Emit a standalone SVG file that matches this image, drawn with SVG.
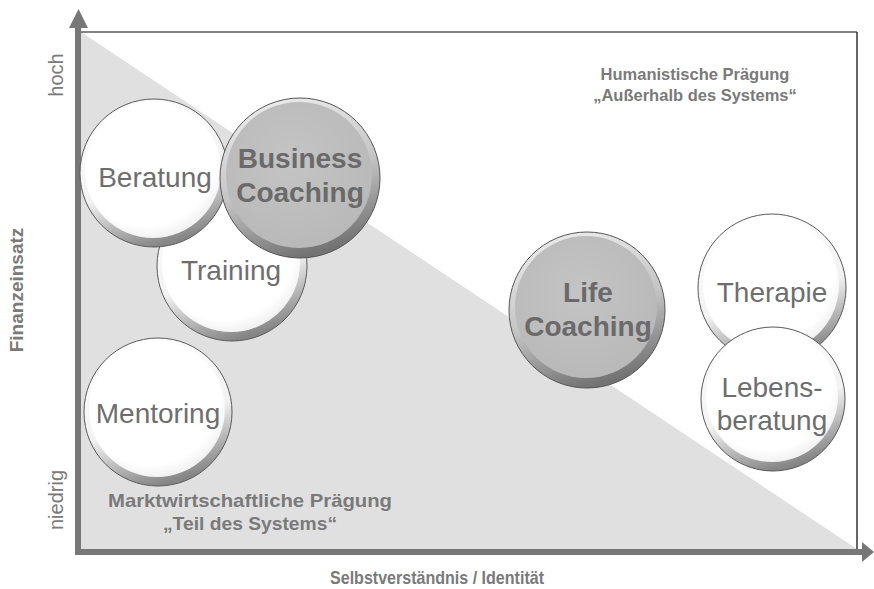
<svg xmlns="http://www.w3.org/2000/svg" width="874" height="589" viewBox="0 0 874 589">
<defs>
<linearGradient id="rimW" x1="0.2" y1="0" x2="0.5" y2="1">
<stop offset="0" stop-color="#ffffff"/>
<stop offset="0.6" stop-color="#f2f2f2"/>
<stop offset="1" stop-color="#858585"/>
</linearGradient>
<radialGradient id="faceW" cx="0.45" cy="0.4" r="0.6">
<stop offset="0" stop-color="#ffffff"/>
<stop offset="0.85" stop-color="#ffffff"/>
<stop offset="1" stop-color="#f2f2f2"/>
</radialGradient>
<linearGradient id="rimG" x1="0.2" y1="0" x2="0.5" y2="1">
<stop offset="0" stop-color="#eeeeee"/>
<stop offset="0.55" stop-color="#c4c4c4"/>
<stop offset="1" stop-color="#727272"/>
</linearGradient>
<radialGradient id="faceG" cx="0.45" cy="0.4" r="0.6">
<stop offset="0" stop-color="#c4c4c4"/>
<stop offset="1" stop-color="#b9b9b9"/>
</radialGradient>
</defs>
<style>
.rw{fill:url(#rimW);stroke:#5a5a5a;stroke-width:1}
.fw{fill:url(#faceW)}
.rg{fill:url(#rimG);stroke:#555;stroke-width:1}
.fg{fill:url(#faceG)}
.lbl{font-family:"Liberation Sans",Arial,sans-serif;font-size:28px;fill:#6e6e6e;text-anchor:middle}
.blbl{font-family:"Liberation Sans",Arial,sans-serif;font-size:28px;font-weight:bold;fill:#6a6a6a;text-anchor:middle}
.ax{font-family:"Liberation Sans",Arial,sans-serif;font-size:20px;fill:#7a7a7a;text-anchor:middle}
.axb{font-family:"Liberation Sans",Arial,sans-serif;font-weight:bold;fill:#7a7a7a;text-anchor:middle}
</style>
<rect width="874" height="589" fill="#ffffff"/>
<g id="region">
<polygon points="81,32 81,549 857,549" fill="#e0e0e0"/>
</g>
<g id="frame" fill="none">
<line x1="81" y1="32" x2="857" y2="32" stroke="#5a5a5a" stroke-width="1.5"/>
<line x1="857" y1="32" x2="857" y2="550" stroke="#333" stroke-width="1.5"/>
</g>
<g id="axes">
<line x1="78" y1="26" x2="78" y2="555" stroke="#777" stroke-width="6"/>
<polygon points="69,28 88,28 78.5,9" fill="#777"/>
<line x1="75" y1="552" x2="864" y2="552" stroke="#777" stroke-width="6"/>
<polygon points="862,542 862,562 874,552" fill="#777"/>
</g>
<g id="axis-labels">
<text class="ax" transform="translate(63,75) rotate(-90)">hoch</text>
<text class="ax" transform="translate(63,500) rotate(-90)">niedrig</text>
<text class="axb" font-size="19" transform="translate(23,290) rotate(-90)">Finanzeinsatz</text>
<text class="axb" font-size="19" x="437" y="584" textLength="214" lengthAdjust="spacingAndGlyphs">Selbstverständnis / Identität</text>
</g>
<g id="region-labels">
<text class="axb" font-size="19" x="250" y="507" textLength="284" lengthAdjust="spacingAndGlyphs">Marktwirtschaftliche Prägung</text>
<text class="axb" font-size="19" x="250" y="530" textLength="174" lengthAdjust="spacingAndGlyphs">„Teil des Systems“</text>
<text class="axb" font-size="16.5" x="695" y="80">Humanistische Prägung</text>
<text class="axb" font-size="16.5" x="695" y="101">„Außerhalb des Systems“</text>
</g>
<g id="training">
<circle class="rw" cx="232" cy="266" r="75"/>
<circle class="fw" cx="231" cy="263" r="69"/>
<text class="lbl" x="231" y="280">Training</text>
</g>
<g id="beratung">
<circle class="rw" cx="154" cy="173" r="74"/>
<circle class="fw" cx="153" cy="170" r="68"/>
<text class="lbl" x="155" y="187">Beratung</text>
</g>
<g id="business-coaching">
<circle class="rg" cx="300" cy="178" r="80"/>
<circle class="fg" cx="299" cy="175" r="73"/>
<text class="blbl" x="300" y="168">Business</text>
<text class="blbl" x="300" y="202">Coaching</text>
</g>
<g id="mentoring">
<circle class="rw" cx="158" cy="412" r="74"/>
<circle class="fw" cx="157" cy="409" r="68"/>
<text class="lbl" x="158" y="423">Mentoring</text>
</g>
<g id="life-coaching">
<circle class="rg" cx="587" cy="310" r="78"/>
<circle class="fg" cx="586" cy="307" r="71"/>
<text class="blbl" x="588" y="302">Life</text>
<text class="blbl" x="588" y="336">Coaching</text>
</g>
<g id="therapie">
<circle class="rw" cx="772" cy="288" r="74"/>
<circle class="fw" cx="771" cy="285" r="68"/>
<text class="lbl" x="772" y="302">Therapie</text>
</g>
<g id="lebensberatung">
<circle class="rw" cx="773" cy="399" r="72"/>
<circle class="fw" cx="772" cy="396" r="66"/>
<text class="lbl" x="772" y="397">Lebens-</text>
<text class="lbl" x="772" y="430">beratung</text>
</g>
<g id="connectors"/>
</svg>
